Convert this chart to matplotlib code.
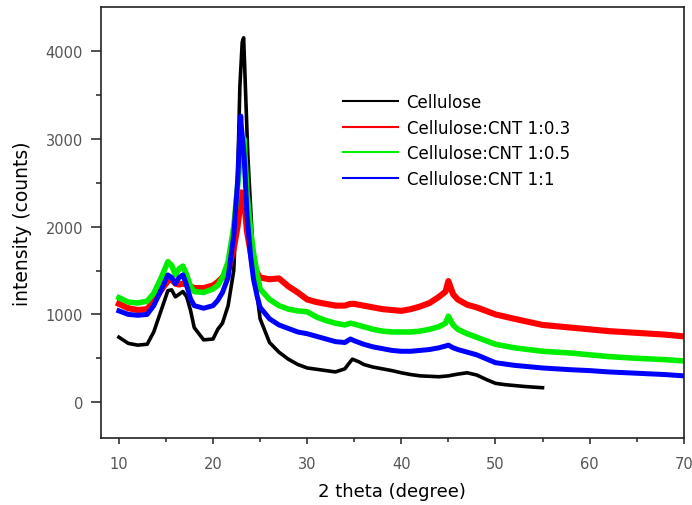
import numpy as np
import matplotlib.pyplot as plt

# 2 theta positions (degree) and intensities
x_cell = [10, 11, 12, 13, 13.7, 14.5, 15.2, 15.6, 16, 16.4, 16.8, 17.2, 17.6, 18, 19, 20, 20.5, 21, 21.6, 22.2,
          22.6, 22.85, 23.1, 23.25, 23.5, 23.7, 24.0, 24.3, 24.7, 25, 26, 27, 28, 29, 30, 31, 32, 33, 34,
          34.5, 34.8, 35.5, 36, 37, 38, 39, 40, 41, 42, 43, 44, 45, 46, 47, 48, 49, 50, 51, 52, 53, 54, 55]
y_cell = [740, 670, 650, 660, 800, 1050, 1270, 1280, 1200, 1230, 1260, 1200, 1050, 850, 710, 720, 830, 900, 1100, 1500,
          2500, 3600, 4100, 4150, 3400, 2800, 2200, 1600, 1200, 950, 680, 570, 490, 430, 390, 375, 360, 345, 380,
          450, 490, 460, 430, 400, 380, 360, 335, 315, 300, 295, 290, 300, 320, 335, 310, 260, 215, 200, 190, 180, 172, 165]

x_cnt = [10, 11, 12, 13, 13.7, 14.5, 15.2, 15.6, 16, 16.4, 16.8, 17.2, 17.6, 18, 19, 20, 20.5, 21, 21.6, 22.2,
         22.6, 22.94, 23.0, 23.3, 23.6, 24.0, 24.3, 24.7, 25, 26, 27, 28, 29, 30, 31, 32, 33, 34, 34.6,
         35, 36, 37, 38, 39, 40, 41, 42, 43, 44, 44.7, 45, 45.5, 46, 47, 48, 50, 52, 55, 58, 60, 62, 65, 68, 70]
y_03 = [1120, 1070, 1050, 1060, 1150, 1280, 1380, 1400, 1350, 1340, 1350, 1340, 1320, 1300, 1300, 1330, 1370, 1420, 1500, 1750,
        2000, 2300, 2390, 2300, 1950, 1700, 1550, 1470, 1420, 1400, 1410, 1320, 1250, 1170, 1140, 1120, 1100, 1100, 1120,
        1120, 1100, 1080, 1060, 1050, 1040, 1060, 1090, 1130, 1200, 1260, 1380, 1230, 1170, 1110, 1080, 1000, 950, 880, 850, 830, 810, 790, 770, 750]
y_05 = [1190, 1140, 1130, 1150, 1240, 1420, 1600, 1560, 1450, 1520, 1550, 1450, 1320, 1260, 1250, 1290, 1330, 1420, 1600, 2000,
        2450, 2800, 2900, 3000, 2400, 1950, 1700, 1450, 1290, 1170, 1100, 1060, 1040, 1030, 970, 930, 900, 880, 900,
        890, 860, 830, 810, 800, 800, 800, 810, 830, 860, 900, 980, 880, 830, 780, 740, 660, 620, 580, 560, 540, 520, 500, 485, 470]
y_11 = [1040, 1000, 990, 1000, 1100, 1280, 1450, 1420, 1350, 1420, 1450, 1330, 1180, 1100, 1070, 1100, 1160, 1250, 1420, 1900,
        2500, 3260, 3150, 2800, 2150, 1650, 1400, 1200, 1080, 950, 880, 840, 800, 780, 750, 720, 690, 680, 720,
        700, 660, 630, 610, 590, 580, 580, 590, 600, 620, 640, 650, 620, 600, 570, 540, 450, 420, 390, 370, 360, 345, 330, 315, 300]

labels = ['Cellulose', 'Cellulose:CNT 1:0.3', 'Cellulose:CNT 1:0.5', 'Cellulose:CNT 1:1']
colors = ['black', 'red', '#00ee00', 'blue']
widths = [2.6, 4.4, 4.0, 3.6]   # noisy bands are thicker for the CNT samples

plt.rcParams['font.family'] = ['DejaVu Sans']

fig = plt.figure(figsize=(6.92, 5.06), dpi=100)
ax = fig.add_axes([0.146, 0.132, 0.842, 0.852])

series = [(x_cell, y_cell), (x_cnt, y_03), (x_cnt, y_05), (x_cnt, y_11)]
for (xs, ys), c, w, lab in zip(series, colors, widths, labels):
    ax.plot(xs, ys, color=c, lw=w, label=lab, solid_joinstyle='round')

ax.set_xlim(8.1, 70)
ax.set_ylim(-410, 4500)
ax.set_xticks([10, 20, 30, 40, 50, 60, 70])
ax.set_xticks(np.arange(15, 70, 10), minor=True)
ax.set_yticks([0, 1000, 2000, 3000, 4000])
ax.set_yticks([500, 1500, 2500, 3500], minor=True)
ax.tick_params(which='both', direction='out', width=1.1, labelsize=10.5,
               labelcolor='#555555', color='#222222')
ax.tick_params(axis='x', which='major', length=4.5, pad=8)
ax.tick_params(axis='x', which='minor', length=3)
ax.tick_params(axis='y', which='major', length=7, pad=6)
ax.tick_params(axis='y', which='minor', length=3.6)
for s in ax.spines.values():
    s.set_linewidth(1.2)
    s.set_color('#222222')

ax.set_xlabel('2 theta (degree)', fontsize=13, labelpad=8)
ax.set_ylabel('intensity (counts)', fontsize=13.5, labelpad=10)

leg = ax.legend(loc='upper left', bbox_to_anchor=(0.39, 0.835), frameon=False, fontsize=12,
                handlelength=3.3, handletextpad=0.5, labelspacing=0.45)
for line in leg.get_lines():
    line.set_linewidth(1.5)

fig.savefig('out.png', dpi=100)
